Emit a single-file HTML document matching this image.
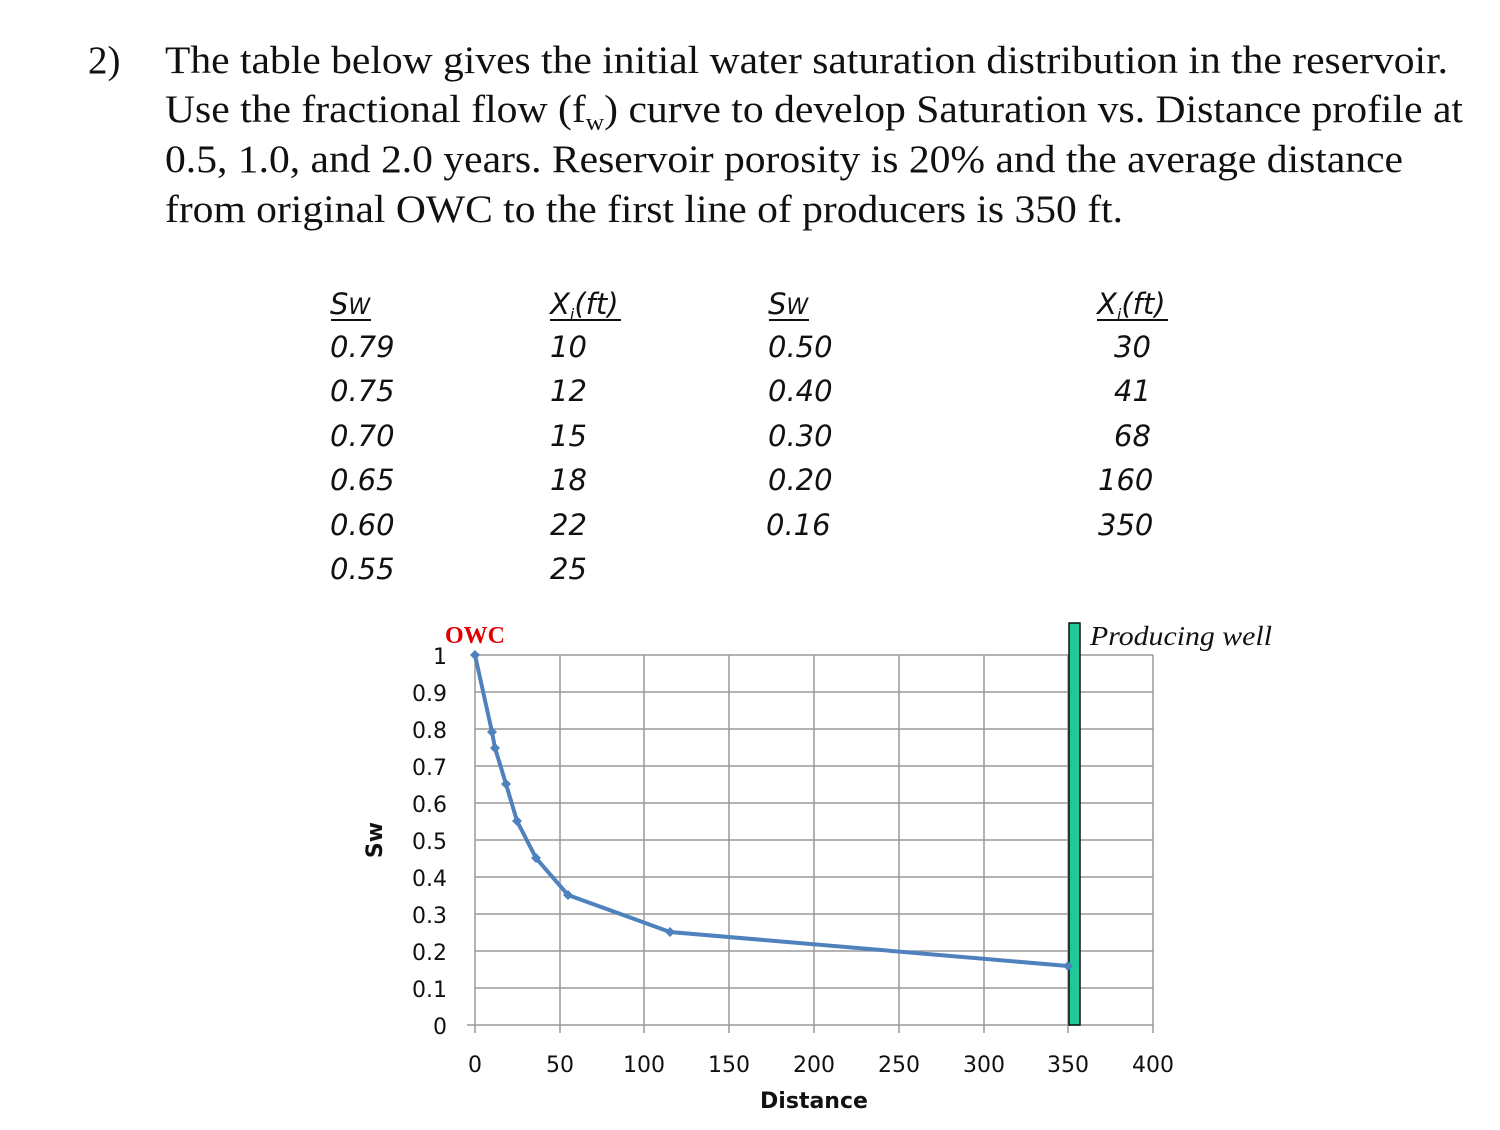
<!DOCTYPE html>
<html><head><meta charset="utf-8"><style>
body{margin:0;background:#fff;width:1500px;height:1125px;overflow:hidden}
</style></head><body>
<svg width="1500" height="1125" xmlns="http://www.w3.org/2000/svg">
<g font-family="Liberation Serif, serif" font-size="39" fill="#111">
<text x="88" y="73">2)</text>
<text x="165" y="73" textLength="1283" lengthAdjust="spacingAndGlyphs">The table below gives the initial water saturation distribution in the reservoir.</text>
<text x="165" y="122" textLength="1298" lengthAdjust="spacingAndGlyphs">Use the fractional flow (f<tspan font-size="24" dy="8">w</tspan><tspan dy="-8">) curve to develop Saturation vs. Distance profile at</tspan></text>
<text x="165" y="172" textLength="1238" lengthAdjust="spacingAndGlyphs">0.5, 1.0, and 2.0 years. Reservoir porosity is 20% and the average distance</text>
<text x="165" y="222" textLength="958" lengthAdjust="spacingAndGlyphs">from original OWC to the first line of producers is 350 ft.</text>
</g>
<g font-family="DejaVu Sans, sans-serif" font-style="italic" font-size="29" fill="#111">
<text x="330" y="314">S<tspan font-size="22">W</tspan></text>
<line x1="331" y1="320" x2="371" y2="320" stroke="#111" stroke-width="2"/>
<text x="550" y="314">X<tspan font-size="16" dy="6">i</tspan><tspan dy="-6">(ft)</tspan></text>
<line x1="550" y1="320" x2="621" y2="320" stroke="#111" stroke-width="2"/>
<text x="768" y="314">S<tspan font-size="22">W</tspan></text>
<line x1="769" y1="320" x2="809" y2="320" stroke="#111" stroke-width="2"/>
<text x="1097" y="314">X<tspan font-size="16" dy="6">i</tspan><tspan dy="-6">(ft)</tspan></text>
<line x1="1097" y1="320" x2="1168" y2="320" stroke="#111" stroke-width="2"/>
<text x="330" y="357">0.79</text><text x="550" y="357">10</text><text x="768" y="357">0.50</text><text x="1114" y="357">30</text>
<text x="330" y="401">0.75</text><text x="550" y="401">12</text><text x="768" y="401">0.40</text><text x="1114" y="401">41</text>
<text x="330" y="446">0.70</text><text x="550" y="446">15</text><text x="768" y="446">0.30</text><text x="1114" y="446">68</text>
<text x="330" y="490">0.65</text><text x="550" y="490">18</text><text x="768" y="490">0.20</text><text x="1098" y="490">160</text>
<text x="330" y="535">0.60</text><text x="550" y="535">22</text><text x="766" y="535">0.16</text><text x="1098" y="535">350</text>
<text x="330" y="579">0.55</text><text x="550" y="579">25</text>
</g>
<g stroke="#9a9a9a" stroke-width="1.5">
<line x1="475" y1="655" x2="1153" y2="655"/><line x1="475" y1="692" x2="1153" y2="692"/>
<line x1="475" y1="729" x2="1153" y2="729"/><line x1="475" y1="766" x2="1153" y2="766"/>
<line x1="475" y1="803" x2="1153" y2="803"/><line x1="475" y1="840" x2="1153" y2="840"/>
<line x1="475" y1="877" x2="1153" y2="877"/><line x1="475" y1="914" x2="1153" y2="914"/>
<line x1="475" y1="951" x2="1153" y2="951"/><line x1="475" y1="988" x2="1153" y2="988"/>
<line x1="467" y1="1025" x2="1153" y2="1025"/>
<line x1="475" y1="655" x2="475" y2="1033"/><line x1="560" y1="655" x2="560" y2="1033"/>
<line x1="644" y1="655" x2="644" y2="1033"/><line x1="729" y1="655" x2="729" y2="1033"/>
<line x1="814" y1="655" x2="814" y2="1033"/><line x1="899" y1="655" x2="899" y2="1033"/>
<line x1="984" y1="655" x2="984" y2="1033"/><line x1="1068" y1="655" x2="1068" y2="1033"/>
<line x1="1153" y1="655" x2="1153" y2="1033"/>
</g>
<rect x="1069" y="623" width="11" height="402" fill="#1fc99a" stroke="#111" stroke-width="1.5"/>
<polyline points="475,655 492,732 495,748 506,784 517,821 536,858 568,895 670,932 1068,966" fill="none" stroke="#4f81bd" stroke-width="4"/>
<g fill="#4f81bd">
<path d="M475,650l5,5l-5,5l-5,-5z"/><path d="M492,727l5,5l-5,5l-5,-5z"/><path d="M495,743l5,5l-5,5l-5,-5z"/>
<path d="M506,779l5,5l-5,5l-5,-5z"/><path d="M517,816l5,5l-5,5l-5,-5z"/><path d="M536,853l5,5l-5,5l-5,-5z"/>
<path d="M568,890l5,5l-5,5l-5,-5z"/><path d="M670,927l5,5l-5,5l-5,-5z"/><path d="M1068,961l5,5l-5,5l-5,-5z"/>
</g>
<g font-family="DejaVu Sans, sans-serif" font-size="22" fill="#111" text-anchor="end">
<text x="447" y="664">1</text><text x="447" y="701">0.9</text><text x="447" y="738">0.8</text>
<text x="447" y="775">0.7</text><text x="447" y="812">0.6</text><text x="447" y="849">0.5</text>
<text x="447" y="886">0.4</text><text x="447" y="923">0.3</text><text x="447" y="960">0.2</text>
<text x="447" y="997">0.1</text><text x="447" y="1034">0</text>
</g>
<g font-family="DejaVu Sans, sans-serif" font-size="22" fill="#111" text-anchor="middle">
<text x="475" y="1072">0</text><text x="560" y="1072">50</text><text x="644" y="1072">100</text>
<text x="729" y="1072">150</text><text x="814" y="1072">200</text><text x="899" y="1072">250</text>
<text x="984" y="1072">300</text><text x="1068" y="1072">350</text><text x="1153" y="1072">400</text>
<text x="814" y="1108" font-weight="bold">Distance</text>
<text transform="translate(382,840) rotate(-90)" font-weight="bold">Sw</text>
</g>
<text x="445" y="643" font-family="Liberation Serif, serif" font-weight="bold" font-size="24" fill="#e00000">OWC</text>
<text x="1090" y="645" font-family="Liberation Serif, serif" font-style="italic" font-size="27" fill="#111" textLength="182" lengthAdjust="spacingAndGlyphs">Producing well</text>
</svg>
</body></html>
